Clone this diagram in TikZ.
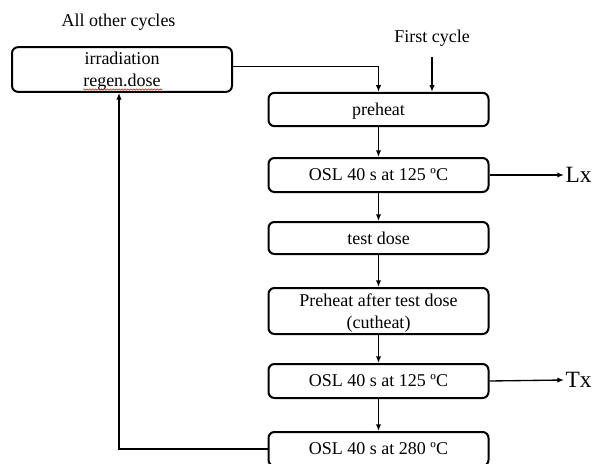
\documentclass[tikz,border=0pt]{standalone}
\usepackage{fontspec}
\setmainfont{Liberation Serif}
\usetikzlibrary{arrows.meta,decorations.pathmorphing}
\tikzset{
  stepbox/.style={draw, line width=1.5pt, rounded corners=4.5pt, minimum width=165pt,
    align=center, inner sep=2pt, text depth=0pt, font=\fontsize{13.5}{16.5}\selectfont},
  flow/.style={line width=1pt, -{Latex[length=5pt,width=4pt]}},
  lbl/.style={font=\fontsize{13.5}{16.5}\selectfont, inner sep=1pt},
  outlbl/.style={font=\fontsize{17.5}{20}\selectfont, anchor=west, inner sep=1pt},
}
\begin{document}
\begin{tikzpicture}[x=0.75pt,y=-0.75pt]
\useasboundingbox (0,0) rectangle (593,464);
\clip (0,0) rectangle (593,464);

\node[lbl] (other) at (118.5,22) {All other cycles};
\node[lbl] (first) at (432,38) {First cycle};

\node[stepbox, minimum height=33.5pt] (irr) at (122,69.5) {irradiation\\regen.dose};
\draw[red, line width=0.4pt, decorate, decoration={snake,amplitude=0.5pt,segment length=2.2pt}] (83,89.5) -- (162,89.5);

\node[stepbox, minimum height=25pt] (pre) at (378.5,109.5) {preheat};
\node[stepbox, minimum height=25.5pt] (osl1) at (378.5,175) {OSL 40 s at 125 ºC};
\node[stepbox, minimum height=24pt] (test) at (378.5,238) {test dose};
\node[stepbox, minimum height=34.5pt] (cut) at (378.5,311) {Preheat after test dose\\(cutheat)};
\node[stepbox, minimum height=25.5pt] (osl2) at (378.5,381) {OSL 40 s at 125 ºC};
\node[stepbox, minimum height=25.5pt] (osl3) at (378.5,449) {OSL 40 s at 280 ºC};

\node[outlbl] (lx) at (564,175) {Lx};
\node[outlbl] (tx) at (564,380) {Tx};

\draw[flow] ([yshift=2.25pt]irr.east) -| (pre.north);
\draw[flow] ([yshift=-7pt]first.south) -- (first.south |- pre.north);
\draw[flow] (pre) -- (osl1);
\draw[flow] (osl1) -- (test);
\draw[flow] (test) -- (cut);
\draw[flow] (cut) -- (osl2);
\draw[flow] (osl2) -- (osl3);
\draw[flow] (osl1.east) -- (lx.west);
\draw[flow] (osl2.east) -- (tx.west);
\draw[flow] (osl3.west) -| ([xshift=-2.25pt]irr.south);
\end{tikzpicture}
\end{document}
